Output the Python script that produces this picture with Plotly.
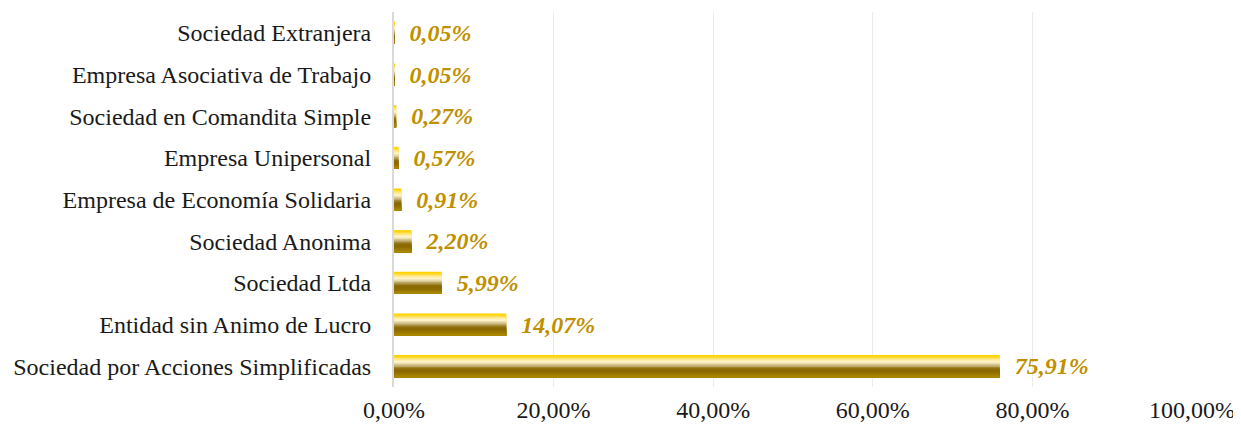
import plotly.graph_objects as go

categories = [
    "Sociedad por Acciones Simplificadas",
    "Entidad sin Animo de Lucro",
    "Sociedad Ltda",
    "Sociedad Anonima",
    "Empresa de Economía Solidaria",
    "Empresa Unipersonal",
    "Sociedad en Comandita Simple",
    "Empresa Asociativa de Trabajo",
    "Sociedad Extranjera",
]
values = [75.91, 14.07, 5.99, 2.20, 0.91, 0.57, 0.27, 0.05, 0.05]
labels = ["75,91%", "14,07%", "5,99%", "2,20%", "0,91%", "0,57%", "0,27%", "0,05%", "0,05%"]
tick_vals = [0, 20, 40, 60, 80, 100]
tick_text = ["0,00%", "20,00%", "40,00%", "60,00%", "80,00%", "100,00%"]

# vertical gradient bands, top to bottom
stripe_colors = ["#FFD200", "#FFDA30", "#FFE470", "#FFEEA8", "#FFF4CC", "#EEE0AE",
                 "#D6C490", "#BCA66A", "#A08428", "#8E6E08", "#8A6A00", "#8E6C00",
                 "#967400", "#A07E00", "#AA8600"]
bar_w = 0.53
n = len(stripe_colors)
sw = bar_w / n

fig = go.Figure()
for i, c in enumerate(stripe_colors):
    # each band spans from the bar bottom up to its own top edge; later bands cover the lower part
    fig.add_trace(go.Bar(
        y=categories, x=values, orientation="h",
        width=bar_w - i * sw, offset=-bar_w / 2,
        marker=dict(color=c, line=dict(width=0)),
        hoverinfo="skip", showlegend=False,
    ))

fig.add_trace(go.Bar(
    y=categories, x=values, orientation="h",
    width=bar_w, offset=-bar_w / 2,
    marker=dict(color="rgba(0,0,0,0)", line=dict(width=0)),
    text=labels, textposition="outside", constraintext="none",
    textfont=dict(family="Liberation Serif", size=24, color="#BF9000"),
    texttemplate="\u00a0\u00a0<b><i>%{text}</i></b>",
    cliponaxis=False, showlegend=False,
))

# page body has an 8px margin: figure sized so it fills the 1241x426 window
fig.update_layout(
    width=1233, height=418,
    barmode="overlay",
    plot_bgcolor="white", paper_bgcolor="white",
    margin=dict(l=386, r=49, t=4, b=39),
    font=dict(family="Liberation Serif", size=24, color="#1a1a1a"),
    xaxis=dict(range=[0, 100], tickvals=tick_vals, ticktext=tick_text,
               showgrid=True, gridcolor="#EBEBEB", gridwidth=1,
               zeroline=False, showline=False, ticks="",
               automargin=False, ticklabelstandoff=6,
               tickfont=dict(family="Liberation Serif", size=24, color="#1a1a1a")),
    yaxis=dict(showline=True, linecolor="#D9D9D9", linewidth=2,
               ticks="", automargin=False, ticklabelstandoff=16,
               tickfont=dict(family="Liberation Serif", size=24, color="#1a1a1a")),
)

fig.write_html("out.html")
